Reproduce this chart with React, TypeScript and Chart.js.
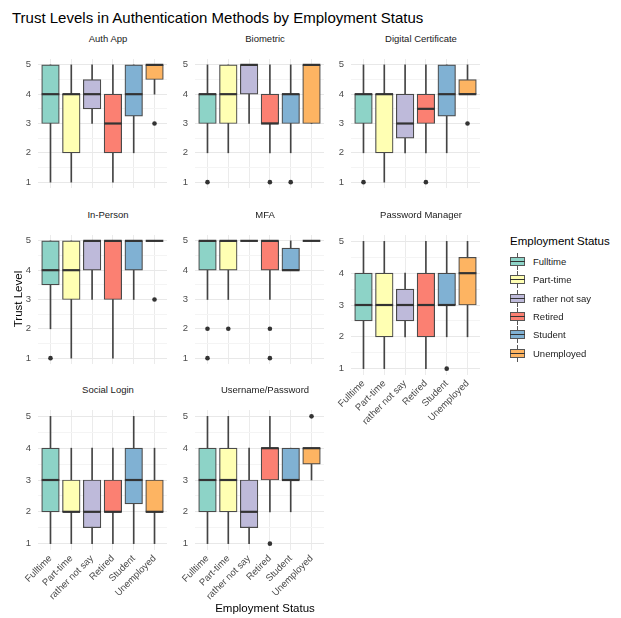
import React, { useEffect, useRef } from "react";
import { Chart, registerables } from "chart.js";
Chart.register(...registerables);

const categories = ["Fulltime", "Part-time", "rather not say", "Retired", "Student", "Unemployed"];
const colors = ["#8DD3C7", "#FFFFB3", "#BEBADA", "#FB8072", "#80B1D3", "#FDB462"];
const yTicks = [1, 1.5, 2, 2.5, 3, 3.5, 4, 4.5, 5];

// each entry: [lower whisker, q1, median, q3, upper whisker]
const authApp = [[1, 3, 4, 5, 5], [1, 2, 4, 4, 5], [3, 3.5, 4, 4.5, 5], [1, 2, 3, 4, 5], [2, 3.25, 4, 5, 5], [4, 4.5, 5, 5, 5]];
const authAppOut = [[], [], [], [], [], [3]];
const biometric = [[2, 3, 4, 4, 5], [2, 3, 4, 5, 5], [3, 4, 5, 5, 5], [2, 3, 3, 4, 5], [2, 3, 4, 4, 5], [3, 3, 5, 5, 5]];
const biometricOut = [[1], [], [], [1], [1], []];
const digitalCert = [[2, 3, 4, 4, 5], [1, 2, 4, 4, 5], [2, 2.5, 3, 4, 5], [2, 3, 3.5, 4, 5], [2, 3.25, 4, 5, 5], [4, 4, 4, 4.5, 5]];
const digitalCertOut = [[1], [], [], [1], [], [3]];
const inPerson = [[2, 3.5, 4, 5, 5], [1, 3, 4, 5, 5], [3, 4, 5, 5, 5], [1, 3, 5, 5, 5], [3, 4, 5, 5, 5], [5, 5, 5, 5, 5]];
const inPersonOut = [[1], [], [], [], [], [3]];
const mfa = [[3, 4, 5, 5, 5], [3, 4, 5, 5, 5], [5, 5, 5, 5, 5], [3, 4, 5, 5, 5], [4, 4, 4, 4.75, 5], [5, 5, 5, 5, 5]];
const mfaOut = [[2, 1], [2], [], [2, 1], [], []];
const passwordManager = [[1, 2.5, 3, 4, 5], [1, 2, 3, 4, 5], [2, 2.5, 3, 3.5, 4], [1, 2, 3, 4, 5], [2, 3, 3, 4, 5], [2, 3, 4, 4.5, 5]];
const passwordManagerOut = [[], [], [], [], [1], []];
const socialLogin = [[1, 2, 3, 4, 5], [1, 2, 2, 3, 4], [1, 1.5, 2, 3, 4], [1, 2, 2, 3, 4], [1, 2.25, 3, 4, 5], [1, 2, 2, 3, 4]];
const socialLoginOut = [[], [], [], [], [], []];
const usernamePassword = [[1, 2, 3, 4, 5], [1, 2, 3, 4, 5], [1, 1.5, 2, 3, 4], [2, 3, 4, 4, 5], [2, 3, 3, 4, 4], [3, 3.5, 4, 4, 4]];
const usernamePasswordOut = [[], [], [], [1], [], [5]];

const FONT = "'Liberation Sans', Arial, sans-serif";
const COL_LEFT = [38, 195, 351];
const ROW_TOP = [48, 224, 399];
const PW = 140;
const PH = 151;
const YW = 22;
const XH = 64;

const panels = [
  { name: "Auth App", stats: authApp, out: authAppOut, row: 0, col: 0, showX: false },
  { name: "Biometric", stats: biometric, out: biometricOut, row: 0, col: 1, showX: false },
  { name: "Digital Certificate", stats: digitalCert, out: digitalCertOut, row: 0, col: 2, showX: false },
  { name: "In-Person", stats: inPerson, out: inPersonOut, row: 1, col: 0, showX: false },
  { name: "MFA", stats: mfa, out: mfaOut, row: 1, col: 1, showX: false },
  { name: "Password Manager", stats: passwordManager, out: passwordManagerOut, row: 1, col: 2, showX: true },
  { name: "Social Login", stats: socialLogin, out: socialLoginOut, row: 2, col: 0, showX: true },
  { name: "Username/Password", stats: usernamePassword, out: usernamePasswordOut, row: 2, col: 1, showX: true },
];

function Panel(props: { stats: number[][]; out: number[][]; showX: boolean; left: number; top: number }) {
  const ref = useRef<HTMLCanvasElement>(null);
  const { stats, out, showX, left, top } = props;
  useEffect(() => {
    if (!ref.current) return;
    const xs = categories.map((_, i) => i + 1);
    const whisk = stats.map((s, i) => ({ x: i + 1, y: [s[0], s[4]] }));
    const boxes = stats.map((s, i) => ({ x: i + 1, y: [s[1], s[3]] }));
    const meds = stats.map((s, i) => ({ x: i + 1, y: s[2] }));
    const outs = out.flatMap((arr, i) => arr.map((v) => ({ x: i + 1, y: v })));
    const chart = new Chart(ref.current, {
      type: "bar",
      data: {
        datasets: [
          {
            type: "bar",
            data: whisk as any,
            backgroundColor: "#444444",
            grouped: false,
            maxBarThickness: 1,
            categoryPercentage: 1,
            barPercentage: 1,
            order: 4,
          },
          {
            type: "bar",
            data: boxes as any,
            backgroundColor: colors,
            borderColor: "#4a4a4a",
            borderWidth: 1.2,
            borderSkipped: false,
            grouped: false,
            maxBarThickness: 17.6,
            categoryPercentage: 1,
            barPercentage: 1,
            order: 3,
          },
          {
            type: "scatter",
            data: meds,
            pointStyle: "line",
            pointRadius: 8.8,
            pointHoverRadius: 8.8,
            pointBorderWidth: 2.2,
            pointBorderColor: "#333333",
            borderColor: "#333333",
            order: 2,
          } as any,
          {
            type: "scatter",
            data: outs,
            pointStyle: "circle",
            pointRadius: 2.3,
            pointHoverRadius: 2.3,
            pointBorderWidth: 0,
            pointBackgroundColor: "#333333",
            backgroundColor: "#333333",
            order: 1,
          } as any,
        ],
      },
      options: {
        responsive: false,
        animation: false,
        events: [],
        layout: { padding: 0 },
        plugins: { legend: { display: false }, tooltip: { enabled: false }, title: { display: false } },
        scales: {
          x: {
            type: "linear",
            min: 0.4,
            max: 6.6,
            offset: false,
            afterBuildTicks: (s: any) => {
              s.ticks = xs.map((v) => ({ value: v }));
            },
            afterFit: (s: any) => {
              s.height = showX ? XH : 0;
              s.paddingLeft = 0;
              s.paddingRight = 0;
            },
            grid: { color: "#ebebeb", lineWidth: 1, drawTicks: false, offset: false },
            border: { display: false },
            ticks: {
              display: showX,
              autoSkip: false,
              maxRotation: 45,
              minRotation: 45,
              padding: 3,
              color: "#4d4d4d",
              font: { size: 9.5, family: FONT },
              callback: (v: any) => categories[Math.round(Number(v)) - 1] ?? "",
            },
          },
          y: {
            type: "linear",
            min: 0.8,
            max: 5.2,
            afterBuildTicks: (s: any) => {
              s.ticks = yTicks.map((v) => ({ value: v }));
            },
            afterFit: (s: any) => {
              s.width = YW;
              s.paddingTop = 0;
              s.paddingBottom = 0;
            },
            grid: {
              color: (ctx: any) => (ctx.tick && ctx.tick.value % 1 === 0 ? "#e8e8e8" : "#f4f4f4"),
              lineWidth: 1,
              drawTicks: false,
            },
            border: { display: false },
            ticks: {
              padding: 7,
              color: "#4d4d4d",
              font: { size: 9.5, family: FONT },
              callback: (v: any) => (Number(v) % 1 === 0 ? String(v) : ""),
            },
          },
        },
      } as any,
    });
    return () => chart.destroy();
  }, []);
  return (
    <canvas
      ref={ref}
      width={YW + PW}
      height={PH + (showX ? XH : 0)}
      style={{ position: "absolute", left, top, width: YW + PW, height: PH + (showX ? XH : 0) }}
    />
  );
}

function LegendKey({ color }: { color: string }) {
  return (
    <div style={{ position: "relative", width: 15, height: 17 }}>
      <div style={{ position: "absolute", left: 7, top: 0, width: 1, height: 17, background: "#555" }} />
      <div
        style={{
          position: "absolute",
          left: 0,
          top: 4,
          width: 15,
          height: 9,
          boxSizing: "border-box",
          border: "1px solid #555",
          background: color,
        }}
      />
      <div style={{ position: "absolute", left: 0, top: 8, width: 15, height: 1, background: "#333" }} />
    </div>
  );
}

export default function App() {
  return (
    <div
      style={{
        position: "absolute",
        left: 0,
        top: 0,
        width: 621,
        height: 618,
        background: "#ffffff",
        fontFamily: FONT,
        overflow: "hidden",
      }}
    >
      <div style={{ position: "absolute", left: 12, top: 9, fontSize: 15, lineHeight: "18px", color: "#000", whiteSpace: "nowrap" }}>
        Trust Levels in Authentication Methods by Employment Status
      </div>
      {panels.map((p) => (
        <React.Fragment key={p.name}>
          <div
            style={{
              position: "absolute",
              left: COL_LEFT[p.col],
              top: ROW_TOP[p.row] - 15,
              width: PW,
              textAlign: "center",
              fontSize: 9.5,
              lineHeight: "12px",
              color: "#1a1a1a",
              whiteSpace: "nowrap",
            }}
          >
            {p.name}
          </div>
          <Panel stats={p.stats} out={p.out} showX={p.showX} left={COL_LEFT[p.col] - YW} top={ROW_TOP[p.row]} />
        </React.Fragment>
      ))}
      <div
        style={{
          position: "absolute",
          left: 38,
          top: 601,
          width: 454,
          textAlign: "center",
          fontSize: 11.5,
          lineHeight: "14px",
          color: "#000",
        }}
      >
        Employment Status
      </div>
      <div
        style={{
          position: "absolute",
          left: 18 - 40,
          top: 299 - 7,
          width: 80,
          textAlign: "center",
          fontSize: 11.5,
          lineHeight: "14px",
          color: "#000",
          transform: "rotate(-90deg)",
          whiteSpace: "nowrap",
        }}
      >
        Trust Level
      </div>
      <div style={{ position: "absolute", left: 510, top: 234, fontSize: 11.5, lineHeight: "14px", color: "#000", whiteSpace: "nowrap" }}>
        Employment Status
      </div>
      {categories.map((c, i) => (
        <div key={c} style={{ position: "absolute", left: 510, top: 253 + i * 18.3, display: "flex", alignItems: "center" }}>
          <LegendKey color={colors[i]} />
          <div style={{ marginLeft: 8, fontSize: 9.5, color: "#1a1a1a", whiteSpace: "nowrap" }}>{c}</div>
        </div>
      ))}
    </div>
  );
}
